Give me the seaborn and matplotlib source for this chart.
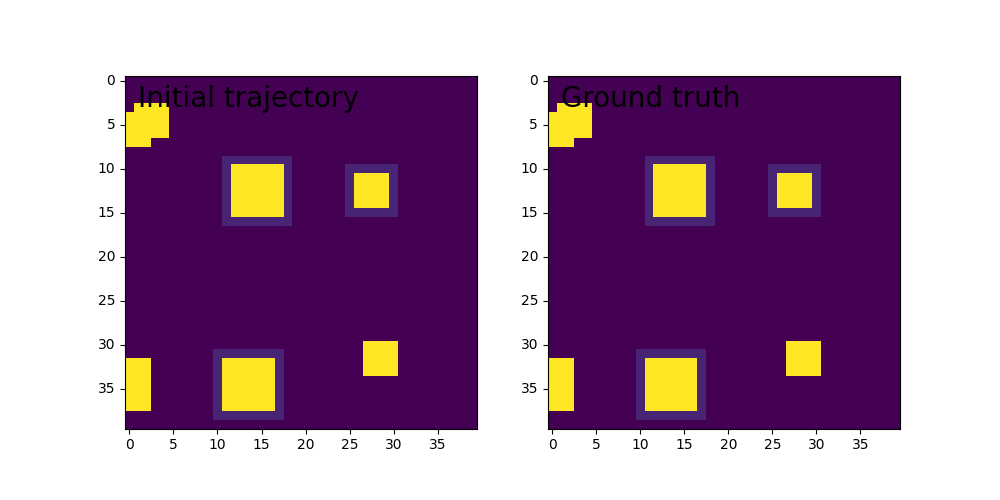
import numpy as np
import seaborn as sns
import matplotlib
matplotlib.use("Agg")
import matplotlib.pyplot as plt

# grid size and panel titles
grid_size = 40
titles = ["Initial trajectory", "Ground truth"]

# blocks as (row_start, row_end, col_start, col_end), inclusive
halo_blocks = [(9, 16, 11, 18), (10, 15, 25, 30), (31, 38, 10, 17)]
halo_value = 0.1
solid_blocks = [(3, 6, 1, 4), (4, 7, 0, 2), (10, 15, 12, 17), (11, 14, 26, 29),
                (32, 37, 11, 16), (30, 33, 27, 30), (32, 37, 0, 2)]
solid_value = 1.0

tick_values = [0, 5, 10, 15, 20, 25, 30, 35]


def build_grid():
    grid = np.zeros((grid_size, grid_size))
    for r0, r1, c0, c1 in halo_blocks:
        grid[r0:r1 + 1, c0:c1 + 1] = halo_value
    for r0, r1, c0, c1 in solid_blocks:
        grid[r0:r1 + 1, c0:c1 + 1] = solid_value
    return grid


fig, axes = plt.subplots(1, 2, figsize=(10, 5), dpi=100)

for ax, title in zip(axes, titles):
    grid = build_grid()
    sns.heatmap(grid, ax=ax, cmap="viridis", vmin=0, vmax=1, cbar=False, square=True)
    for spine in ax.spines.values():
        spine.set_visible(True)
    ticks = np.array(tick_values) + 0.5
    ax.set_xticks(ticks)
    ax.set_xticklabels([str(t) for t in tick_values], rotation=0)
    ax.set_yticks(ticks)
    ax.set_yticklabels([str(t) for t in tick_values], rotation=0)
    ax.text(1.5, 3.5, title, fontsize=20)

plt.savefig("out.png", dpi=100)
